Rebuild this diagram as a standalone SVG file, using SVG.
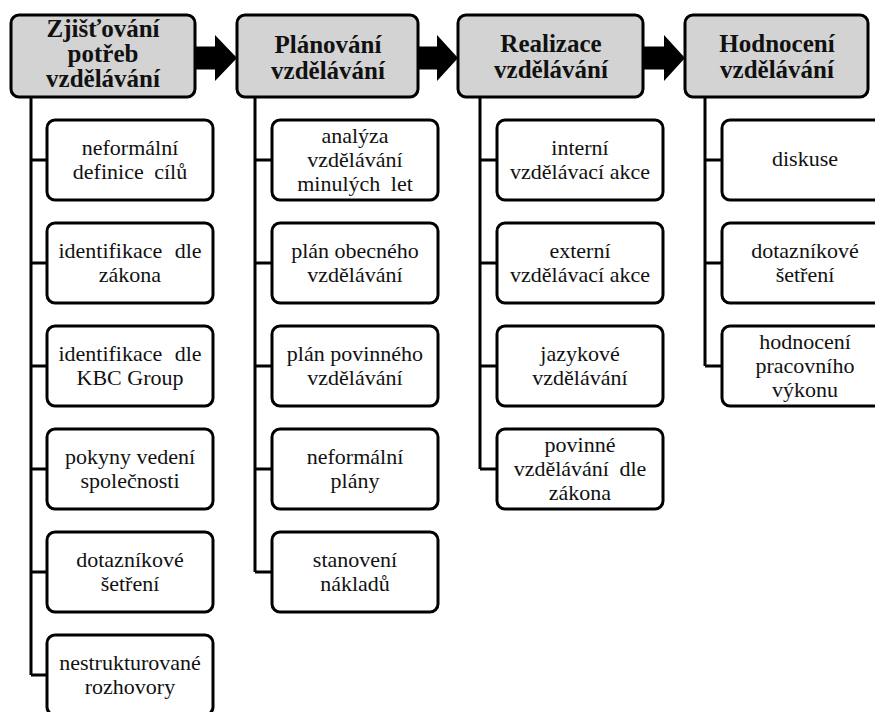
<svg xmlns="http://www.w3.org/2000/svg" width="875" height="712" viewBox="0 0 875 712">
  <style>
    .head rect { fill: #d3d3d3; stroke: #000; stroke-width: 3; }
    .item rect { fill: #fff; stroke: #000; stroke-width: 3; }
    text { font-family: 'Liberation Serif', 'DejaVu Serif', serif; text-anchor: middle; fill: #111; }
    .head text { font-weight: bold; font-size: 25px; }
    .item text { font-size: 22px; }
    .link { fill: none; stroke: #000; stroke-width: 3; }
    .flow { fill: #000; }
  </style>
  <rect width="875" height="712" fill="#fff"/>

  <!-- connectors: block arrows between phases, trunks and branches -->
  <g id="connectors">
    <polygon class="flow" points="195,46.5 215,46.5 215,35 237,58 215,81 215,69.5 195,69.5"/>
    <polygon class="flow" points="418,46.5 437,46.5 437,35 458,58 437,81 437,69.5 418,69.5"/>
    <polygon class="flow" points="643,46.5 664,46.5 664,35 685,58 664,81 664,69.5 643,69.5"/>

    <path class="link" d="M31,97 V675 M31,160 H47 M31,263 H47 M31,366 H47 M31,469 H47 M31,572 H47 M31,675 H47"/>
    <path class="link" d="M255,97 V572 M255,160 H272 M255,263 H272 M255,366 H272 M255,469 H272 M255,572 H272"/>
    <path class="link" d="M480,97 V469 M480,160 H497 M480,263 H497 M480,366 H497 M480,469 H497"/>
    <path class="link" d="M705,97 V366 M705,160 H722 M705,263 H722 M705,366 H722"/>
  </g>

  <!-- phase headers -->
  <g id="h1" class="head">
    <rect x="11" y="15" width="184" height="82" rx="8"/>
    <text x="103" y="37">Zjišťování</text>
    <text x="103" y="62">potřeb</text>
    <text x="103" y="87">vzdělávání</text>
  </g>
  <g id="h2" class="head">
    <rect x="237" y="15" width="181" height="82" rx="8"/>
    <text x="328" y="53">Plánování</text>
    <text x="328" y="79">vzdělávání</text>
  </g>
  <g id="h3" class="head">
    <rect x="458" y="15" width="185" height="82" rx="8"/>
    <text x="551" y="52">Realizace</text>
    <text x="551" y="78">vzdělávání</text>
  </g>
  <g id="h4" class="head">
    <rect x="685" y="15" width="183" height="82" rx="8"/>
    <text x="777" y="52">Hodnocení</text>
    <text x="777" y="78">vzdělávání</text>
  </g>

  <!-- column 1 -->
  <g id="c1n1" class="item">
    <rect x="47" y="120" width="166" height="80" rx="8"/>
    <text x="130" y="155">neformální</text>
    <text x="130" y="179" word-spacing="5">definice cílů</text>
  </g>
  <g id="c1n2" class="item">
    <rect x="47" y="223" width="166" height="80" rx="8"/>
    <text x="130" y="258" word-spacing="7">identifikace dle</text>
    <text x="130" y="282">zákona</text>
  </g>
  <g id="c1n3" class="item">
    <rect x="47" y="326" width="166" height="80" rx="8"/>
    <text x="130" y="361" word-spacing="7">identifikace dle</text>
    <text x="130" y="385">KBC Group</text>
  </g>
  <g id="c1n4" class="item">
    <rect x="47" y="429" width="166" height="80" rx="8"/>
    <text x="130" y="464">pokyny vedení</text>
    <text x="130" y="488">společnosti</text>
  </g>
  <g id="c1n5" class="item">
    <rect x="47" y="532" width="166" height="80" rx="8"/>
    <text x="130" y="567">dotazníkové</text>
    <text x="130" y="591">šetření</text>
  </g>
  <g id="c1n6" class="item">
    <rect x="47" y="635" width="166" height="80" rx="8"/>
    <text x="130" y="670">nestrukturované</text>
    <text x="130" y="694">rozhovory</text>
  </g>

  <!-- column 2 -->
  <g id="c2n1" class="item">
    <rect x="272" y="120" width="166" height="80" rx="8"/>
    <text x="355" y="143">analýza</text>
    <text x="355" y="167">vzdělávání</text>
    <text x="355" y="191" word-spacing="5">minulých let</text>
  </g>
  <g id="c2n2" class="item">
    <rect x="272" y="223" width="166" height="80" rx="8"/>
    <text x="355" y="258">plán obecného</text>
    <text x="355" y="282">vzdělávání</text>
  </g>
  <g id="c2n3" class="item">
    <rect x="272" y="326" width="166" height="80" rx="8"/>
    <text x="355" y="361">plán povinného</text>
    <text x="355" y="385">vzdělávání</text>
  </g>
  <g id="c2n4" class="item">
    <rect x="272" y="429" width="166" height="80" rx="8"/>
    <text x="355" y="464">neformální</text>
    <text x="355" y="488">plány</text>
  </g>
  <g id="c2n5" class="item">
    <rect x="272" y="532" width="166" height="80" rx="8"/>
    <text x="355" y="567">stanovení</text>
    <text x="355" y="591">nákladů</text>
  </g>

  <!-- column 3 -->
  <g id="c3n1" class="item">
    <rect x="497" y="120" width="166" height="80" rx="8"/>
    <text x="580" y="155">interní</text>
    <text x="580" y="179">vzdělávací akce</text>
  </g>
  <g id="c3n2" class="item">
    <rect x="497" y="223" width="166" height="80" rx="8"/>
    <text x="580" y="258">externí</text>
    <text x="580" y="282">vzdělávací akce</text>
  </g>
  <g id="c3n3" class="item">
    <rect x="497" y="326" width="166" height="80" rx="8"/>
    <text x="580" y="361">jazykové</text>
    <text x="580" y="385">vzdělávání</text>
  </g>
  <g id="c3n4" class="item">
    <rect x="497" y="429" width="166" height="80" rx="8"/>
    <text x="580" y="452">povinné</text>
    <text x="580" y="476" word-spacing="5">vzdělávání dle</text>
    <text x="580" y="500">zákona</text>
  </g>

  <!-- column 4 -->
  <g id="c4n1" class="item">
    <rect x="722" y="120" width="166" height="80" rx="8"/>
    <text x="805" y="166">diskuse</text>
  </g>
  <g id="c4n2" class="item">
    <rect x="722" y="223" width="166" height="80" rx="8"/>
    <text x="805" y="258">dotazníkové</text>
    <text x="805" y="282">šetření</text>
  </g>
  <g id="c4n3" class="item">
    <rect x="722" y="326" width="166" height="80" rx="8"/>
    <text x="805" y="349">hodnocení</text>
    <text x="805" y="373">pracovního</text>
    <text x="805" y="397">výkonu</text>
  </g>
</svg>
